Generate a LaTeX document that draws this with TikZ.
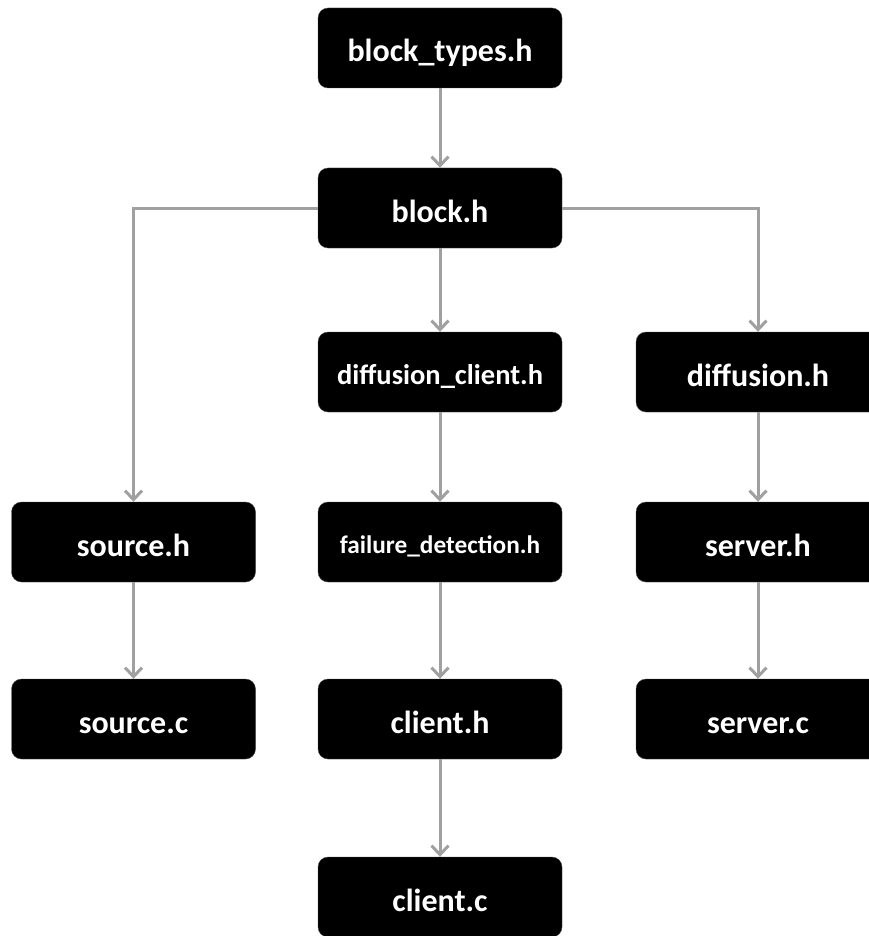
\documentclass[tikz,border=0pt]{standalone}
\usepackage{fontspec}
\setmainfont{Carlito}
\usetikzlibrary{arrows.meta}
\definecolor{linkgray}{HTML}{A0A0A0}
\tikzset{
  filebox/.style={draw=black!70, fill=black, text=white, rounded corners=10pt,
    minimum width=244pt, minimum height=80pt, inner sep=0pt,
    text height=28pt, text depth=0pt,
    font=\fontsize{32}{36}\selectfont\bfseries},
  smallbox/.style={filebox, text height=25pt,
    font=\fontsize{28.5}{32}\selectfont\bfseries},
  tinybox/.style={filebox, text height=22pt,
    font=\fontsize{25.3}{30}\selectfont\bfseries},
  link/.style={draw=linkgray, line width=3pt,
    -{Straight Barb[length=9pt,width=17pt,line width=3pt]}}
}
\begin{document}
\begin{tikzpicture}[x=1pt,y=-1pt]
\useasboundingbox (0,0) rectangle (869,936);
% header tree
\node[filebox] (types) at (440,48) {block\_types.h};
\node[filebox] (block) at (440,208) {block.h};
% second level
\node[smallbox] (dclient) at (440,372) {diffusion\_client.h};
\node[filebox] (diff) at (758,372) {diffusion.h};
% third level
\node[filebox] (srch) at (133.5,542) {source.h};
\node[tinybox] (fail) at (440,542) {failure\_detection.h};
\node[filebox] (servh) at (758,542) {server.h};
% fourth level
\node[filebox] (srcc) at (133.5,719) {source.c};
\node[filebox] (clih) at (440,719) {client.h};
\node[filebox] (servc) at (758,719) {server.c};
% bottom
\node[filebox] (clic) at (440,897) {client.c};
% include links
\draw[link] (types) -- (block);
\draw[link] (block) -- (dclient);
\draw[link] (block.west) -| (srch.north);
\draw[link] (block.east) -| (diff.north);
\draw[link] (dclient) -- (fail);
\draw[link] (fail) -- (clih);
\draw[link] (clih) -- (clic);
\draw[link] (srch) -- (srcc);
\draw[link] (diff) -- (servh);
\draw[link] (servh) -- (servc);
\end{tikzpicture}
\end{document}
